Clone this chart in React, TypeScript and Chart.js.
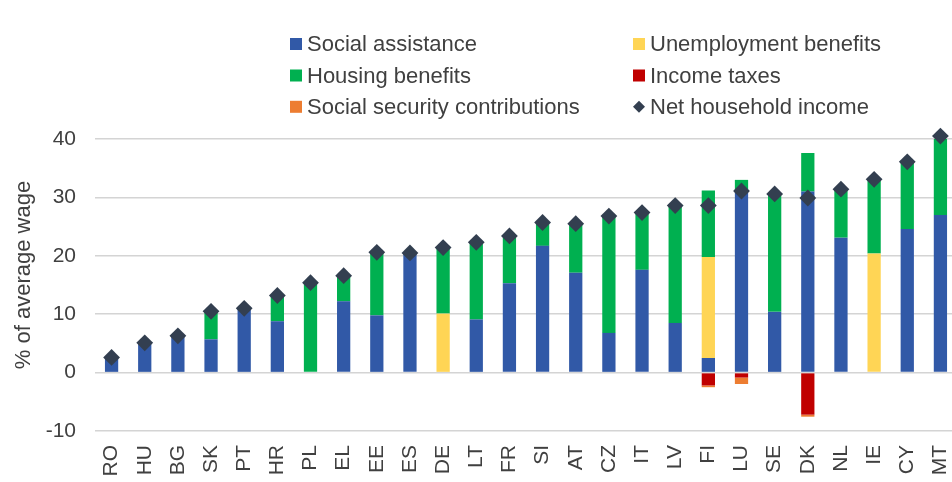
import React, { useEffect, useRef } from "react";
import { Chart, registerables } from "chart.js";

Chart.register(...registerables);

const categories = ["RO", "HU", "BG", "SK", "PT", "HR", "PL", "EL", "EE", "ES", "DE", "LT", "FR", "SI", "AT", "CZ", "IT", "LV", "FI", "LU", "SE", "DK", "NL", "IE", "CY", "MT"];
const socialAssistance = [2.5, 5.0, 6.2, 5.7, 11.0, 8.8, 0, 12.2, 9.8, 20.4, 0, 9.1, 15.3, 21.7, 17.1, 6.8, 17.6, 8.5, 2.5, 31.0, 10.4, 31.0, 23.1, 0, 24.6, 27.0];
const unemploymentBenefits = [0, 0, 0, 0, 0, 0, 0, 0, 0, 0, 10.1, 0, 0, 0, 0, 0, 0, 0, 17.3, 0, 0, 0, 0, 20.4, 0, 0];
const housingBenefits = [0, 0, 0, 4.8, 0, 4.4, 15.4, 4.4, 10.8, 0, 11.3, 13.2, 8.1, 4.0, 8.4, 20.0, 9.8, 20.1, 11.4, 2.0, 20.2, 6.6, 8.3, 12.7, 11.5, 13.5];
const incomeTaxes = [0, 0, 0, 0, 0, 0, 0, 0, 0, 0, 0, 0, 0, 0, 0, 0, 0, 0, -2.2, -0.85, 0, -7.2, 0, 0, 0, 0];
const socialSecurityContributions = [0, 0, 0, 0, 0, 0, 0, 0, 0, 0, 0, 0, 0, 0, 0, 0, 0, 0, -0.3, -1.1, 0, -0.35, 0, 0, 0, 0];
const netHouseholdIncome = [2.6, 5.1, 6.3, 10.5, 11.0, 13.2, 15.4, 16.6, 20.6, 20.5, 21.4, 22.3, 23.4, 25.7, 25.5, 26.8, 27.4, 28.6, 28.6, 31.1, 30.6, 29.9, 31.4, 33.1, 36.1, 40.5];

const seriesLabels = [
  "Social assistance",
  "Unemployment benefits",
  "Housing benefits",
  "Income taxes",
  "Social security contributions",
  "Net household income",
];
const seriesColors = ["#3159A7", "#FFD555", "#00B050", "#C00000", "#ED7D31", "#333F50"];
const yAxisTitle = "% of average wage";

const FONT = "'Liberation Sans', Arial, sans-serif";
const TEXT = "#404040";

const customDecor = {
  id: "customDecor",
  afterDraw(chart: any) {
    const ctx = chart.ctx;
    ctx.save();
    ctx.font = `22px ${FONT}`;
    ctx.fillStyle = TEXT;
    ctx.textBaseline = "alphabetic";
    ctx.textAlign = "left";
    const colX = [290, 633];
    const rowBase = [51, 82.5, 113.8];
    chart.data.datasets.forEach((ds: any, i: number) => {
      const col = i % 2;
      const row = Math.floor(i / 2);
      const mx = colX[col];
      const cy = rowBase[row] - 7;
      ctx.fillStyle = ds.backgroundColor;
      if (ds.type === "line") {
        ctx.beginPath();
        ctx.moveTo(mx + 6, cy - 6);
        ctx.lineTo(mx + 12, cy);
        ctx.lineTo(mx + 6, cy + 6);
        ctx.lineTo(mx, cy);
        ctx.closePath();
        ctx.fill();
      } else {
        ctx.fillRect(mx, cy - 6, 12, 12);
      }
      ctx.fillStyle = TEXT;
      ctx.fillText(ds.label, mx + 17, rowBase[row]);
    });
    // y axis title
    ctx.translate(24, 275);
    ctx.rotate(-Math.PI / 2);
    ctx.textAlign = "center";
    ctx.textBaseline = "middle";
    ctx.font = `22px ${FONT}`;
    ctx.fillText(yAxisTitle, 0, 0);
    ctx.restore();
  },
};

export default function App() {
  const ref = useRef<HTMLCanvasElement | null>(null);
  useEffect(() => {
    if (!ref.current) return;
    const barData = [socialAssistance, unemploymentBenefits, housingBenefits, incomeTaxes, socialSecurityContributions];
    const datasets: any[] = barData.map((d, i) => ({
      type: "bar",
      label: seriesLabels[i],
      data: d,
      backgroundColor: seriesColors[i],
      borderWidth: 0,
      stack: "flows",
      order: 1,
      categoryPercentage: 1,
      barPercentage: 0.4,
    }));
    datasets.push({
      type: "line",
      label: seriesLabels[5],
      data: netHouseholdIncome,
      backgroundColor: seriesColors[5],
      borderColor: seriesColors[5],
      showLine: false,
      pointStyle: "rectRot",
      pointRadius: 8.4,
      pointBorderWidth: 0,
      stack: "net",
      order: 0,
      clip: false,
    });
    const chart = new Chart(ref.current, {
      type: "bar",
      data: { labels: categories, datasets },
      options: {
        animation: false,
        responsive: false,
        devicePixelRatio: 1,
        layout: { autoPadding: false, padding: { top: 139, left: 0, right: 0, bottom: 0 } },
        plugins: { legend: { display: false }, tooltip: { enabled: false } },
        scales: {
          x: {
            stacked: true,
            grid: { display: false, drawTicks: false },
            border: { display: false },
            ticks: {
              color: TEXT,
              font: { family: FONT, size: 21 },
              minRotation: 90,
              maxRotation: 90,
              padding: 14,
              autoSkip: false,
            },
            afterFit: (s: any) => {
              s.height = 51;
              s.paddingLeft = 0;
              s.paddingRight = 0;
            },
          },
          y: {
            stacked: true,
            min: -10,
            max: 40,
            grid: { color: "#D4D4D4", lineWidth: 1.5, drawTicks: false },
            border: { display: false },
            ticks: {
              stepSize: 10,
              color: TEXT,
              font: { family: FONT, size: 21 },
              padding: 19,
            },
            afterFit: (s: any) => {
              s.width = 95;
              s.paddingTop = 0;
              s.paddingBottom = 0;
            },
          },
        },
      },
      plugins: [customDecor],
    } as any);
    return () => chart.destroy();
  }, []);
  return (
    <div style={{ position: "fixed", left: 0, top: 0, width: 952, height: 482, overflow: "hidden", background: "#fff" }}>
      <canvas ref={ref} width={957} height={482} style={{ display: "block", width: 957, height: 482 }} />
    </div>
  );
}
